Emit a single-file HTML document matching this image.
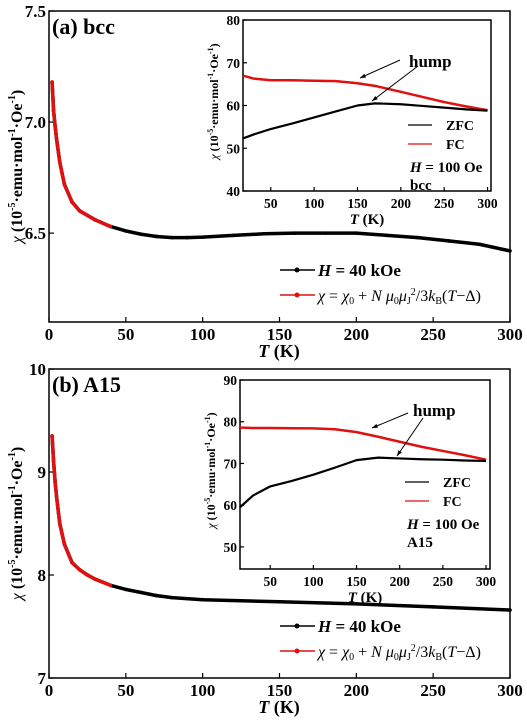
<!DOCTYPE html>
<html><head><meta charset="utf-8"><style>
body{margin:0;background:#fff}
svg{display:block;font-family:"Liberation Serif",serif}
.tk{font-weight:bold;font-size:17px}
.itk{font-weight:bold;font-size:13.5px}
</style></head><body>
<svg id="fig" width="527" height="720" xmlns="http://www.w3.org/2000/svg"></svg>
<script>
// Panel (a) main data
const aT = [2,3,4,5,7,10,15,20,25,30,40,50,60,70,80,90,100,120,140,160,180,200,220,240,260,280,300];
const aChi = [7.18,7.05,6.98,6.92,6.82,6.72,6.64,6.60,6.58,6.56,6.53,6.51,6.495,6.485,6.48,6.48,6.482,6.49,6.497,6.5,6.5,6.5,6.49,6.48,6.465,6.45,6.42];
// Panel (b) main data
const bT = [2,3,4,5,7,10,15,20,25,30,40,50,60,70,80,100,150,200,250,300];
const bChi = [9.35,9.1,8.9,8.75,8.5,8.3,8.12,8.05,8.0,7.96,7.9,7.86,7.83,7.8,7.78,7.76,7.74,7.72,7.69,7.66];
// Inset (a)
const iaT = [18,30,50,75,100,125,150,170,200,225,250,275,300];
const iaZFC = [52.3,53.2,54.5,55.8,57.2,58.6,60.0,60.5,60.3,59.9,59.5,59.1,58.8];
const iaFC = [67,66.3,65.9,65.9,65.8,65.7,65.2,64.6,63.2,62.0,60.8,59.8,58.9];
// Inset (b)
const ibT = [15,30,50,75,100,125,150,175,200,225,250,275,300];
const ibZFC = [59.5,62.3,64.5,65.8,67.3,69.0,70.8,71.4,71.2,71.0,70.9,70.7,70.6];
const ibFC = [78.6,78.5,78.5,78.45,78.4,78.2,77.5,76.4,75.2,74.0,73.0,72.0,70.9];
const mainXTicks = [0,50,100,150,200,250,300];
const aYTicks = [6.5,7.0,7.5];
const bYTicks = [7,8,9,10];
const iXTicks = [50,100,150,200,250,300];
const iaYTicks = [40,50,60,70,80];
const ibYTicks = [50,60,70,80,90];

const NS="http://www.w3.org/2000/svg";
const svg=document.getElementById('fig');
function el(tag,attrs,parent){const e=document.createElementNS(NS,tag);for(const k in attrs)e.setAttribute(k,attrs[k]);(parent||svg).appendChild(e);return e;}
function lin(d0,d1,r0,r1){return v=>r0+(v-d0)*(r1-r0)/(d1-d0);}

function axes(g,x,y,X0,X1,Y0,Y1,xt,yt,cls,fmt,tl){
  const f=el('rect',{x:X0,y:Y1,width:X1-X0,height:Y0-Y1,fill:'none',stroke:'#000','stroke-width':1.5},g);
  
  xt.forEach(t=>{const px=x(t);
    el('line',{x1:px,x2:px,y1:Y0,y2:Y0-tl,stroke:'#000','stroke-width':1.2},g);
    const tx=el('text',{x:px,y:Y0+(cls=='tk'?18:17),'text-anchor':'middle',class:cls},g);tx.textContent=t;
    });
  yt.forEach(t=>{const py=y(t);
    el('line',{x1:X0,x2:X0+tl,y1:py,y2:py,stroke:'#000','stroke-width':1.2},g);
    const tx=el('text',{x:X0-3,y:py+(cls=='tk'?6:5),'text-anchor':'end',class:cls},g);tx.textContent=fmt(t);
    });
}
function series(g,T,V,x,y,color,w,name,r){
  const p=el('polyline',{points:T.map((t,i)=>x(t)+','+y(V[i])).join(' '),fill:'none',stroke:color,'stroke-width':w,'stroke-linejoin':'round'},g);
  
  if(r)T.forEach((t,i)=>el('circle',{cx:x(t),cy:y(V[i]),r:r,fill:color},g));
}
function txt(g,x,y,html,attrs,name){const t=el('text',Object.assign({x:x,y:y},attrs||{}),g);t.innerHTML=html;
  return t;}

function panel(o){
  const g=el('g',{});
  const x=lin(0,300,49,510), y=lin(o.yd[0],o.yd[1],o.Y0,o.Y1);
  axes(g,x,y,49,510,o.Y0,o.Y1,mainXTicks,o.yt,'tk',o.fmt,5);
  const cut=o.T.indexOf(40);
  series(g,o.T,o.V,x,y,'#000',3.5,'data-40koe',1.8);
  series(g,o.T.slice(0,cut+1),o.V.slice(0,cut+1),x,y,'#e01010',3.5,'fit-curve',1.8);
  txt(g,52,o.Y1+23,o.label,{'font-size':22,'font-weight':'bold'},'panel-label');
  txt(g,279,o.Y0+35,'<tspan font-style="italic">T</tspan> (K)',{'font-size':18,'font-weight':'bold','text-anchor':'middle'},'x-axis-title');
  txt(g,0,0,'<tspan font-style="italic" font-weight="normal">χ</tspan> (10<tspan dy="-7" font-size="10">-5</tspan><tspan dy="7">·emu·mol</tspan><tspan dy="-7" font-size="10">-1</tspan><tspan dy="7">·Oe</tspan><tspan dy="-7" font-size="10">-1</tspan><tspan dy="7">)</tspan>',
    {'font-size':16,'font-weight':'bold','text-anchor':'middle',transform:`translate(22,${(o.Y0+o.Y1)/2}) rotate(-90)`},'y-axis-title');
  const ly=o.Y0-52;
  el('line',{x1:280,x2:315,y1:ly,y2:ly,stroke:'#000','stroke-width':1.5},g);el('circle',{cx:297,cy:ly,r:2.5},g);
  txt(g,318,ly+6,'<tspan font-style="italic">H</tspan> = 40 kOe',{'font-size':17,'font-weight':'bold'},'legend-entry-data');
  el('line',{x1:280,x2:315,y1:ly+25,y2:ly+25,stroke:'#e01010','stroke-width':1.5},g);el('circle',{cx:297,cy:ly+25,r:2.5,fill:'#e01010'},g);
  txt(g,318,ly+31,'<tspan font-style="italic">χ</tspan> = <tspan font-style="italic">χ</tspan><tspan font-size="10" dy="3">0</tspan><tspan dy="-3"> + </tspan><tspan font-style="italic">N μ</tspan><tspan font-size="10" dy="3">0</tspan><tspan dy="-3" font-style="italic">μ</tspan><tspan font-size="10" dy="3">J</tspan><tspan font-size="10" dy="-9">2</tspan><tspan dy="6">/3</tspan><tspan font-style="italic">k</tspan><tspan font-size="10" dy="3">B</tspan><tspan dy="-3">(</tspan><tspan font-style="italic">T</tspan>−Δ)',{'font-size':16},'legend-entry-fit');
  // inset
  const I=o.in, ig=el('g',{},g);
  const ix=lin(I.xd[0],I.xd[1],I.X0,I.X1), iy=lin(I.yd[0],I.yd[1],I.Y0,I.Y1);
  axes(ig,ix,iy,I.X0,I.X1,I.Y0,I.Y1,iXTicks,I.yt,'itk',v=>v,4);
  series(ig,I.T,I.FC,ix,iy,'#e01010',2.5,'fc-curve',0);
  series(ig,I.T,I.ZFC,ix,iy,'#000',2.2,'zfc-curve',0);
  txt(ig,(I.X0+I.X1)/2,I.Y0+33,'<tspan font-style="italic">T</tspan> (K)',{'font-size':15,'font-weight':'bold','text-anchor':'middle'},'inset-x-axis-title');
  txt(ig,0,0,'<tspan font-style="italic" font-weight="normal">χ</tspan> (10<tspan dy="-5" font-size="8">-5</tspan><tspan dy="5">·emu·mol</tspan><tspan dy="-5" font-size="8">-1</tspan><tspan dy="5">·Oe</tspan><tspan dy="-5" font-size="8">-1</tspan><tspan dy="5">)</tspan>',
    {'font-size':12,'font-weight':'bold','text-anchor':'middle',transform:`translate(${I.X0-25},${(I.Y0+I.Y1)/2-4}) rotate(-90)`},'inset-y-axis-title');
  const L=I.leg;
  el('line',{x1:L[0],x2:L[0]+24,y1:L[1],y2:L[1],stroke:'#000','stroke-width':1.3},ig);
  txt(ig,L[0]+38,L[1]+5,'ZFC',{'font-size':14,'font-weight':'bold'},'legend-zfc');
  el('line',{x1:L[0],x2:L[0]+24,y1:L[1]+19,y2:L[1]+19,stroke:'#e01010','stroke-width':1.3},ig);
  txt(ig,L[0]+38,L[1]+24,'FC',{'font-size':14,'font-weight':'bold'},'legend-fc');
  txt(ig,L[0]+2,L[1]+47,'<tspan font-style="italic">H</tspan> = 100 Oe',{'font-size':15,'font-weight':'bold'},'field-label');
  txt(ig,L[0]+2,L[1]+65,o.phase,{'font-size':15,'font-weight':'bold'},'phase-label');
  txt(ig,I.hump[0],I.hump[1],'hump',{'font-size':17,'font-weight':'bold'},'hump-annotation');
  I.arrows.forEach(a=>{el('line',{x1:a[0],y1:a[1],x2:a[2],y2:a[3],stroke:'#000','stroke-width':1},ig);
    const ang=Math.atan2(a[3]-a[1],a[2]-a[0]),s=6;
    el('polygon',{points:`${a[2]},${a[3]} ${a[2]-s*Math.cos(ang-0.35)},${a[3]-s*Math.sin(ang-0.35)} ${a[2]-s*Math.cos(ang+0.35)},${a[3]-s*Math.sin(ang+0.35)}`,fill:'#000'},ig);});
}
panel({name:'panel-a-bcc',label:'(a) bcc',phase:'bcc',T:aT,V:aChi,yd:[6.1,7.5],Y0:322,Y1:11,yt:aYTicks,fmt:v=>v.toFixed(1),
  in:{X0:243,X1:491,Y0:191,Y1:20,xd:[18,304],yd:[40,80],yt:iaYTicks,T:iaT,ZFC:iaZFC,FC:iaFC,leg:[408,125],hump:[409,67],
  arrows:[[400,60,360,78],[418,66,372,101]]}});
panel({name:'panel-b-a15',label:'(b) A15',phase:'A15',T:bT,V:bChi,yd:[7,10],Y0:678,Y1:369,yt:bYTicks,fmt:v=>v,
  in:{X0:240,X1:490,Y0:569,Y1:380,xd:[15,304.6],yd:[44.7,90],yt:ibYTicks,T:ibT,ZFC:ibZFC,FC:ibFC,leg:[405,482],hump:[413,416],
  arrows:[[408,413,372,428],[423,418,397,456]]}});
</script>
</body></html>
